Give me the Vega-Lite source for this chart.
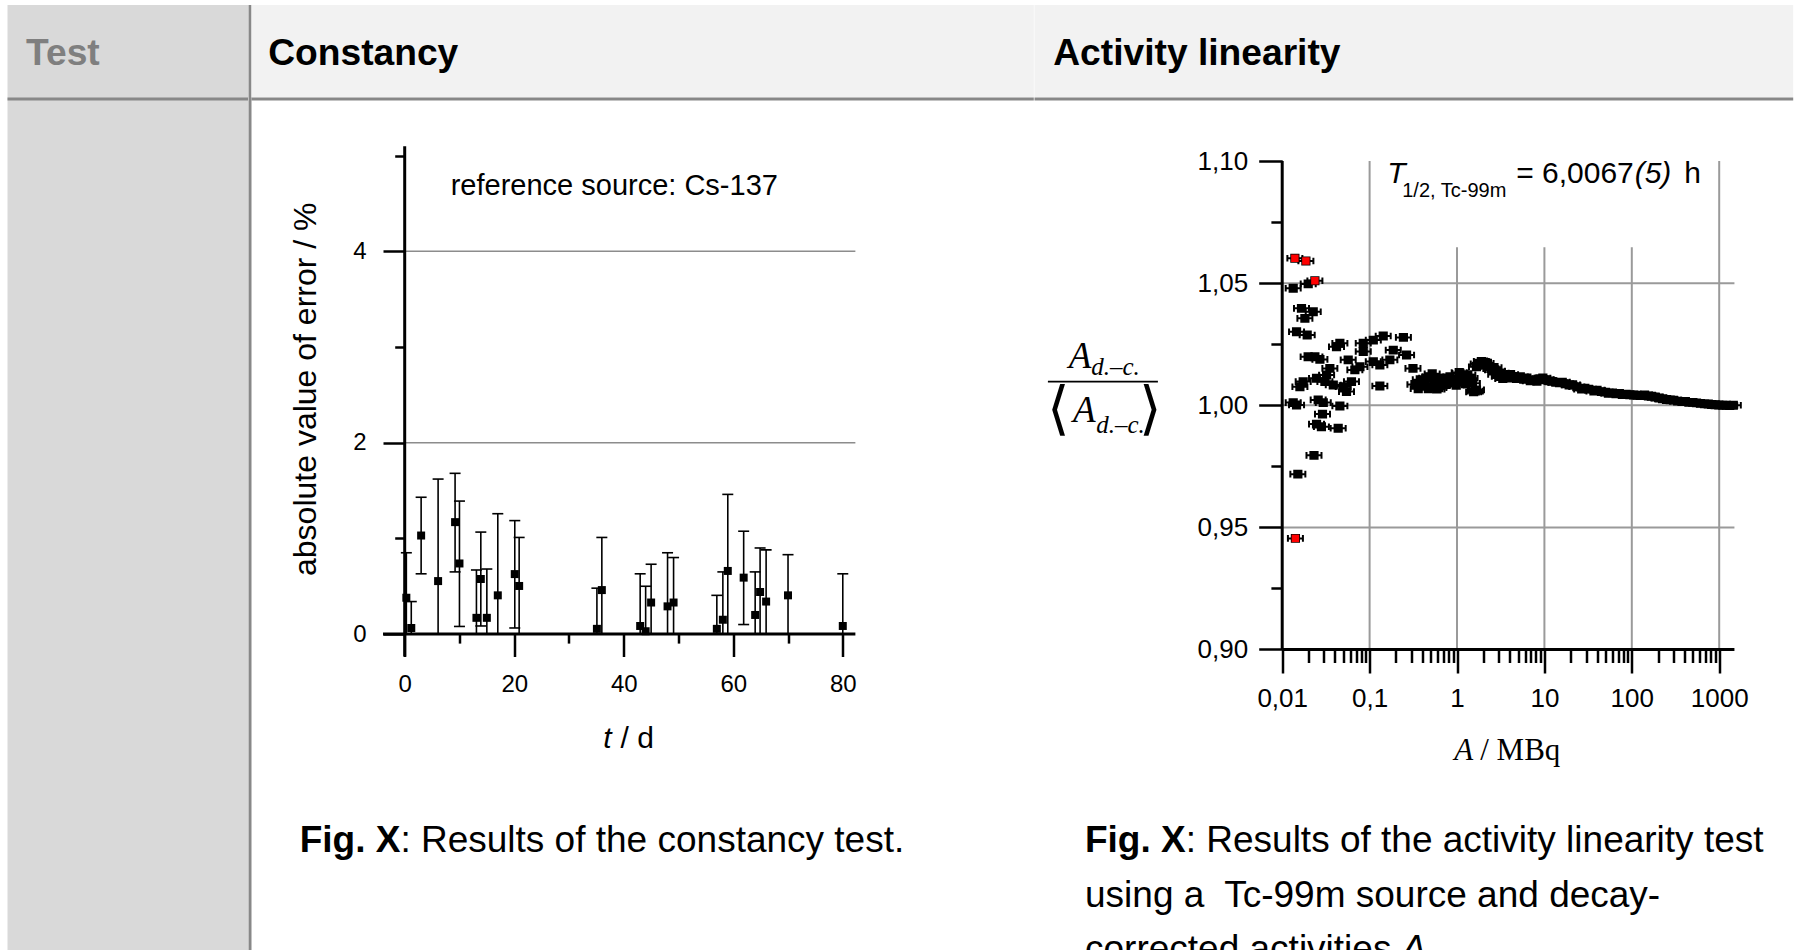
{
  "$schema": "https://vega.github.io/schema/vega-lite/v6.json",
  "background": "white",
  "padding": {"left": 7.5, "top": 5, "right": 0, "bottom": 0},
  "bounds": "flush",
  "spacing": 0,
  "config": {
    "view": {"stroke": null},
    "font": "Liberation Sans",
    "axis": {"labelFont": "Liberation Sans", "labelColor": "black", "tickColor": "black", "labelFlush": false, "labelOverlap": false}
  },
  "datasets": {
    "constancy": [
      {"t": 0.3, "v": 0.38, "lo": 0, "hi": 0.85},
      {"t": 1.2, "v": 0.064, "lo": 0, "hi": 0.34},
      {"t": 3.0, "v": 1.03, "lo": 0.63, "hi": 1.43},
      {"t": 6.1, "v": 0.554, "lo": 0, "hi": 1.62},
      {"t": 9.2, "v": 1.17, "lo": 0.65, "hi": 1.68},
      {"t": 10.0, "v": 0.738, "lo": 0.08, "hi": 1.39},
      {"t": 13.1, "v": 0.17, "lo": 0, "hi": 0.67},
      {"t": 13.9, "v": 0.576, "lo": 0.085, "hi": 1.066},
      {"t": 15.0, "v": 0.17, "lo": 0, "hi": 0.68},
      {"t": 17.0, "v": 0.405, "lo": 0, "hi": 1.258},
      {"t": 20.1, "v": 0.627, "lo": 0.064, "hi": 1.186},
      {"t": 20.9, "v": 0.503, "lo": 0, "hi": 1.01},
      {"t": 35.1, "v": 0.055, "lo": 0, "hi": 0.48},
      {"t": 36.0, "v": 0.46, "lo": 0, "hi": 1.01},
      {"t": 43.0, "v": 0.085, "lo": 0, "hi": 0.63},
      {"t": 44.0, "v": 0.03, "lo": 0, "hi": 0.5},
      {"t": 45.0, "v": 0.33, "lo": 0, "hi": 0.73},
      {"t": 48.0, "v": 0.29, "lo": 0, "hi": 0.85},
      {"t": 49.1, "v": 0.33, "lo": 0, "hi": 0.8},
      {"t": 57.0, "v": 0.055, "lo": 0, "hi": 0.405},
      {"t": 58.1, "v": 0.15, "lo": 0, "hi": 0.65},
      {"t": 59.0, "v": 0.66, "lo": 0, "hi": 1.46},
      {"t": 61.9, "v": 0.59, "lo": 0.1, "hi": 1.075},
      {"t": 64.0, "v": 0.2, "lo": 0, "hi": 0.65},
      {"t": 64.9, "v": 0.44, "lo": 0, "hi": 0.9},
      {"t": 66.0, "v": 0.34, "lo": 0, "hi": 0.88},
      {"t": 70.0, "v": 0.405, "lo": 0, "hi": 0.83},
      {"t": 80.0, "v": 0.085, "lo": 0, "hi": 0.63}
    ],
    "linearity": [
      {"A": 0.01396, "r": 1.0602, "out": true},
      {"A": 0.01866, "r": 1.0591, "out": true},
      {"A": 0.02366, "r": 1.0510, "out": true},
      {"A": 0.01416, "r": 0.9455, "out": true},
      {"A": 0.01336, "r": 1.0479, "out": false},
      {"A": 0.01984, "r": 1.0497, "out": false},
      {"A": 0.01662, "r": 1.0397, "out": false},
      {"A": 0.02264, "r": 1.0383, "out": false},
      {"A": 0.01818, "r": 1.0356, "out": false},
      {"A": 0.01459, "r": 1.0301, "out": false},
      {"A": 0.01931, "r": 1.0288, "out": false},
      {"A": 0.0457, "r": 1.0254, "out": false},
      {"A": 0.0418, "r": 1.0240, "out": false},
      {"A": 0.0846, "r": 1.0254, "out": false},
      {"A": 0.1102, "r": 1.0267, "out": false},
      {"A": 0.1431, "r": 1.0284, "out": false},
      {"A": 0.2436, "r": 1.0278, "out": false},
      {"A": 0.02366, "r": 1.0199, "out": false},
      {"A": 0.0270, "r": 1.0188, "out": false},
      {"A": 0.0198, "r": 1.0199, "out": false},
      {"A": 0.0846, "r": 1.0220, "out": false},
      {"A": 0.0569, "r": 1.0186, "out": false},
      {"A": 0.0775, "r": 1.0158, "out": false},
      {"A": 0.1865, "r": 1.0226, "out": false},
      {"A": 0.2648, "r": 1.0206, "out": false},
      {"A": 0.1705, "r": 1.0186, "out": false},
      {"A": 0.1102, "r": 1.0179, "out": false},
      {"A": 0.131, "r": 1.0165, "out": false},
      {"A": 0.3134, "r": 1.0151, "out": false},
      {"A": 0.0351, "r": 1.0151, "out": false},
      {"A": 0.0322, "r": 1.0124, "out": false},
      {"A": 0.0678, "r": 1.0145, "out": false},
      {"A": 0.01738, "r": 1.0097, "out": false},
      {"A": 0.0247, "r": 1.0111, "out": false},
      {"A": 0.01594, "r": 1.0076, "out": false},
      {"A": 0.0308, "r": 1.0097, "out": false},
      {"A": 0.0384, "r": 1.0083, "out": false},
      {"A": 0.0499, "r": 1.0076, "out": false},
      {"A": 0.0544, "r": 1.0056, "out": false},
      {"A": 0.0620, "r": 1.0097, "out": false},
      {"A": 0.131, "r": 1.0079, "out": false},
      {"A": 0.33, "r": 1.0085, "out": false},
      {"A": 0.36, "r": 1.0068, "out": false},
      {"A": 0.38, "r": 1.0105, "out": false},
      {"A": 0.412, "r": 1.0090, "out": false},
      {"A": 0.42, "r": 1.0078, "out": false},
      {"A": 0.45, "r": 1.0112, "out": false},
      {"A": 0.47, "r": 1.0068, "out": false},
      {"A": 0.486, "r": 1.0117, "out": false},
      {"A": 0.486, "r": 1.0076, "out": false},
      {"A": 0.52, "r": 1.0129, "out": false},
      {"A": 0.55, "r": 1.0105, "out": false},
      {"A": 0.57, "r": 1.0078, "out": false},
      {"A": 0.59, "r": 1.0066, "out": false},
      {"A": 0.62, "r": 1.0072, "out": false},
      {"A": 0.638, "r": 1.0111, "out": false},
      {"A": 0.66, "r": 1.0098, "out": false},
      {"A": 0.69, "r": 1.0083, "out": false},
      {"A": 0.72, "r": 1.0109, "out": false},
      {"A": 0.75, "r": 1.0085, "out": false},
      {"A": 0.78, "r": 1.0112, "out": false},
      {"A": 0.832, "r": 1.0117, "out": false},
      {"A": 0.87, "r": 1.0092, "out": false},
      {"A": 0.95, "r": 1.0105, "out": false},
      {"A": 0.98, "r": 1.0082, "out": false},
      {"A": 1.06, "r": 1.0134, "out": false},
      {"A": 1.08, "r": 1.0131, "out": false},
      {"A": 1.12, "r": 1.0095, "out": false},
      {"A": 1.18, "r": 1.0120, "out": false},
      {"A": 1.25, "r": 1.0088, "out": false},
      {"A": 1.28, "r": 1.0109, "out": false},
      {"A": 1.33, "r": 1.0125, "out": false},
      {"A": 1.41, "r": 1.0111, "out": false},
      {"A": 1.50, "r": 1.0090, "out": false},
      {"A": 1.55, "r": 1.0055, "out": false},
      {"A": 1.62, "r": 1.0058, "out": false},
      {"A": 1.67, "r": 1.0158, "out": false},
      {"A": 1.67, "r": 1.0063, "out": false},
      {"A": 1.75, "r": 1.0170, "out": false},
      {"A": 1.85, "r": 1.0165, "out": false},
      {"A": 1.9, "r": 1.0180, "out": false},
      {"A": 2.01, "r": 1.0177, "out": false},
      {"A": 2.15, "r": 1.0172, "out": false},
      {"A": 2.3, "r": 1.0160, "out": false},
      {"A": 2.44, "r": 1.0150, "out": false},
      {"A": 2.55, "r": 1.0145, "out": false},
      {"A": 2.65, "r": 1.0155, "out": false},
      {"A": 2.77, "r": 1.0126, "out": false},
      {"A": 2.9, "r": 1.0140, "out": false},
      {"A": 3.05, "r": 1.0118, "out": false},
      {"A": 3.2, "r": 1.0132, "out": false},
      {"A": 3.34, "r": 1.0109, "out": false},
      {"A": 3.6, "r": 1.0122, "out": false},
      {"A": 3.8, "r": 1.0112, "out": false},
      {"A": 4.1, "r": 1.0126, "out": false},
      {"A": 4.4, "r": 1.0118, "out": false},
      {"A": 4.8, "r": 1.0110, "out": false},
      {"A": 5.3, "r": 1.0117, "out": false},
      {"A": 5.8, "r": 1.0106, "out": false},
      {"A": 6.3, "r": 1.0112, "out": false},
      {"A": 6.9, "r": 1.0100, "out": false},
      {"A": 7.5, "r": 1.0104, "out": false},
      {"A": 8.2, "r": 1.0098, "out": false},
      {"A": 8.9, "r": 1.0109, "out": false},
      {"A": 9.6, "r": 1.0112, "out": false},
      {"A": 10.5, "r": 1.0105, "out": false},
      {"A": 11.4, "r": 1.0100, "out": false},
      {"A": 12.3, "r": 1.0098, "out": false},
      {"A": 13.5, "r": 1.0094, "out": false},
      {"A": 14.9, "r": 1.0092, "out": false},
      {"A": 16, "r": 1.0095, "out": false},
      {"A": 17.5, "r": 1.0088, "out": false},
      {"A": 19.2, "r": 1.0083, "out": false},
      {"A": 21, "r": 1.0084, "out": false},
      {"A": 23.5, "r": 1.0076, "out": false},
      {"A": 26.7, "r": 1.0066, "out": false},
      {"A": 29, "r": 1.0070, "out": false},
      {"A": 32, "r": 1.0066, "out": false},
      {"A": 36.9, "r": 1.0058, "out": false},
      {"A": 40, "r": 1.0062, "out": false},
      {"A": 45, "r": 1.0056, "out": false},
      {"A": 50, "r": 1.0054, "out": false},
      {"A": 54, "r": 1.0049, "out": false},
      {"A": 60, "r": 1.0051, "out": false},
      {"A": 66, "r": 1.0047, "out": false},
      {"A": 72, "r": 1.0048, "out": false},
      {"A": 78, "r": 1.0044, "out": false},
      {"A": 86, "r": 1.0045, "out": false},
      {"A": 95, "r": 1.0043, "out": false},
      {"A": 105, "r": 1.0042, "out": false},
      {"A": 115, "r": 1.0041, "out": false},
      {"A": 125, "r": 1.0040, "out": false},
      {"A": 140, "r": 1.0042, "out": false},
      {"A": 155, "r": 1.0038, "out": false},
      {"A": 168, "r": 1.0037, "out": false},
      {"A": 185, "r": 1.0034, "out": false},
      {"A": 205, "r": 1.0030, "out": false},
      {"A": 225, "r": 1.0027, "out": false},
      {"A": 250, "r": 1.0024, "out": false},
      {"A": 275, "r": 1.0022, "out": false},
      {"A": 300, "r": 1.0021, "out": false},
      {"A": 335, "r": 1.0017, "out": false},
      {"A": 375, "r": 1.0015, "out": false},
      {"A": 410, "r": 1.0016, "out": false},
      {"A": 450, "r": 1.0012, "out": false},
      {"A": 500, "r": 1.0012, "out": false},
      {"A": 550, "r": 1.0010, "out": false},
      {"A": 610, "r": 1.0008, "out": false},
      {"A": 680, "r": 1.0006, "out": false},
      {"A": 750, "r": 1.0005, "out": false},
      {"A": 820, "r": 1.0003, "out": false},
      {"A": 900, "r": 1.0002, "out": false},
      {"A": 990, "r": 1.0001, "out": false},
      {"A": 1100, "r": 1.0000, "out": false},
      {"A": 1210, "r": 1.0000, "out": false},
      {"A": 1320, "r": 0.9999, "out": false},
      {"A": 1450, "r": 1.0000, "out": false},
      {"A": 0.01336, "r": 1.0011, "out": false},
      {"A": 0.01459, "r": 1.0001, "out": false},
      {"A": 0.0258, "r": 1.0022, "out": false},
      {"A": 0.0295, "r": 1.0011, "out": false},
      {"A": 0.0457, "r": 0.9997, "out": false},
      {"A": 0.0289, "r": 0.9964, "out": false},
      {"A": 0.0247, "r": 0.9923, "out": false},
      {"A": 0.0281, "r": 0.9912, "out": false},
      {"A": 0.0437, "r": 0.9906, "out": false},
      {"A": 0.0231, "r": 0.9795, "out": false},
      {"A": 0.0151, "r": 0.9718, "out": false}
    ]
  },
  "hconcat": [
    {
      "width": 240.5,
      "height": 945,
      "view": {"fill": "#d9d9d9", "stroke": null},
      "layer": [
        {
          "data": {"values": [{}]},
          "mark": {"type": "rect", "color": "#888888", "opacity": 1},
          "encoding": {
            "x": {"datum": -72.443, "type": "quantitative", "scale": {"domain": [-72.443, -28.524], "nice": false, "zero": false}, "axis": null},
            "x2": {"datum": -28.524},
            "y": {"datum": 5.5758, "type": "quantitative", "scale": {"domain": [-3.3009, 6.5737], "nice": false, "zero": false}, "axis": null},
            "y2": {"datum": 5.6071}
          }
        },
        {
          "data": {"values": [{}]},
          "mark": {"type": "text", "text": "Test", "align": "left", "baseline": "alphabetic", "fontSize": 37.2, "fontWeight": "bold", "color": "#7f7f7f"},
          "encoding": {
            "x": {"datum": -69.06, "type": "quantitative", "axis": null},
            "y": {"datum": 5.9467, "type": "quantitative", "axis": null}
          }
        }
      ]
    },
    {"width": 3, "height": 945, "view": {"fill": "#888888", "stroke": null}, "data": {"values": []}, "mark": "point"},
    {
      "width": 782.3,
      "height": 945,
      "layer": [
        {
          "data": {"values": [{}]},
          "mark": {"type": "rect", "color": "#f2f2f2", "opacity": 1},
          "encoding": {
            "x": {"datum": -27.977, "type": "quantitative"}, "x2": {"datum": 114.883},
            "y": {"datum": 5.6071, "type": "quantitative"}, "y2": {"datum": 6.5737}
          }
        },
        {
          "data": {"values": [{}]},
          "mark": {"type": "rect", "color": "#888888", "opacity": 1},
          "encoding": {
            "x": {"datum": -27.977, "type": "quantitative"}, "x2": {"datum": 114.883},
            "y": {"datum": 5.5758, "type": "quantitative"}, "y2": {"datum": 5.6071}
          }
        },
        {
          "data": {"values": [{}]},
          "mark": {"type": "text", "text": "Constancy", "align": "left", "baseline": "alphabetic", "fontSize": 37.2, "fontWeight": "bold", "color": "black"},
          "encoding": {"x": {"datum": -24.93, "type": "quantitative"}, "y": {"datum": 5.9467, "type": "quantitative"}}
        },
        {
          "data": {"values": [{}]},
          "mark": {"type": "rule", "color": "#8c8c8c", "strokeWidth": 1.6},
          "encoding": {"x": {"datum": 0, "type": "quantitative"}, "x2": {"datum": 82.3}, "y": {"datum": 2, "type": "quantitative"}}
        },
        {
          "data": {"values": [{}]},
          "mark": {"type": "rule", "color": "#8c8c8c", "strokeWidth": 1.6},
          "encoding": {"x": {"datum": 0, "type": "quantitative"}, "x2": {"datum": 82.3}, "y": {"datum": 4, "type": "quantitative"}}
        },
        {
          "data": {"name": "constancy"},
          "mark": {"type": "rule", "color": "black", "strokeWidth": 1.6},
          "encoding": {
            "x": {
              "field": "t", "type": "quantitative",
              "scale": {"domain": [-27.977, 114.883], "nice": false, "zero": false},
              "axis": {
                "title": null,
                "values": [0, 10, 20, 30, 40, 50, 60, 70, 80],
                "offset": -315.9,
                "domain": false,
                "tickWidth": 2.5,
                "tickSize": {"condition": {"test": "datum.value % 20 === 0", "value": 22.4}, "value": 9},
                "labelExpr": "datum.value % 20 === 0 ? format(datum.value, 'd') : ''",
                "labelFontSize": 24,
                "labelPadding": 16,
                "grid": false
              }
            },
            "y": {
              "field": "lo", "type": "quantitative",
              "scale": {"domain": [-3.3009, 6.5737], "nice": false, "zero": false},
              "axis": {
                "title": null,
                "values": [0, 1, 2, 3, 4, 5],
                "offset": -153.2,
                "domain": false,
                "tickWidth": 2.5,
                "tickSize": {"condition": {"test": "datum.value % 2 === 0", "value": 21.7}, "value": 10},
                "labelExpr": "datum.value % 2 === 0 ? format(datum.value, 'd') : ''",
                "labelFontSize": 24,
                "labelPadding": 17,
                "grid": false
              }
            },
            "y2": {"field": "hi"}
          }
        },
        {
          "data": {"values": [{}]},
          "mark": {"type": "rule", "color": "black", "strokeWidth": 3},
          "encoding": {"x": {"datum": -3.96, "type": "quantitative"}, "x2": {"datum": 82.3}, "y": {"datum": 0, "type": "quantitative"}}
        },
        {
          "data": {"values": [{}]},
          "mark": {"type": "rule", "color": "black", "strokeWidth": 3},
          "encoding": {"x": {"datum": 0, "type": "quantitative"}, "y": {"datum": -0.234, "type": "quantitative"}, "y2": {"datum": 5.097}}
        },
        {
          "data": {"name": "constancy"},
          "mark": {"type": "tick", "orient": "horizontal", "size": 11, "thickness": 1.6, "color": "black", "opacity": 1},
          "encoding": {"x": {"field": "t", "type": "quantitative"}, "y": {"field": "hi", "type": "quantitative"}}
        },
        {
          "data": {"name": "constancy"},
          "transform": [{"filter": "datum.lo > 0"}],
          "mark": {"type": "tick", "orient": "horizontal", "size": 11, "thickness": 1.6, "color": "black", "opacity": 1},
          "encoding": {"x": {"field": "t", "type": "quantitative"}, "y": {"field": "lo", "type": "quantitative"}}
        },
        {
          "data": {"name": "constancy"},
          "mark": {"type": "square", "size": 64, "color": "black", "opacity": 1},
          "encoding": {"x": {"field": "t", "type": "quantitative"}, "y": {"field": "v", "type": "quantitative"}}
        },
        {
          "data": {"values": [{}]},
          "mark": {"type": "text", "text": "reference source: Cs-137", "align": "left", "baseline": "alphabetic", "fontSize": 29, "color": "black"},
          "encoding": {"x": {"datum": 8.4, "type": "quantitative"}, "y": {"datum": 4.593, "type": "quantitative"}}
        },
        {
          "data": {"values": [{}]},
          "mark": {"type": "text", "text": "absolute value of error / %", "align": "center", "baseline": "alphabetic", "angle": 270, "fontSize": 32, "color": "black"},
          "encoding": {"x": {"datum": -16.25, "type": "quantitative"}, "y": {"datum": 2.559, "type": "quantitative"}}
        },
        {
          "data": {"values": [{}]},
          "mark": {"type": "text", "text": "t", "align": "right", "baseline": "alphabetic", "fontSize": 30, "fontStyle": "italic", "color": "black"},
          "encoding": {"x": {"datum": 37.76, "type": "quantitative"}, "y": {"datum": -1.194, "type": "quantitative"}}
        },
        {
          "data": {"values": [{}]},
          "mark": {"type": "text", "text": "/ d", "align": "left", "baseline": "alphabetic", "fontSize": 30, "color": "black"},
          "encoding": {"x": {"datum": 39.41, "type": "quantitative"}, "y": {"datum": -1.194, "type": "quantitative"}}
        },
        {
          "data": {"values": [{}]},
          "mark": {"type": "text", "text": "Fig. X", "align": "right", "baseline": "alphabetic", "fontSize": 37, "fontWeight": "bold", "color": "black"},
          "encoding": {"x": {"datum": -0.785, "type": "quantitative"}, "y": {"datum": -2.274, "type": "quantitative"}}
        },
        {
          "data": {"values": [{}]},
          "mark": {"type": "text", "text": ": Results of the constancy test.", "align": "left", "baseline": "alphabetic", "fontSize": 37, "color": "black"},
          "encoding": {"x": {"datum": -0.785, "type": "quantitative"}, "y": {"datum": -2.274, "type": "quantitative"}}
        }
      ]
    },
    {
      "width": 758.7,
      "height": 945,
      "layer": [
        {
          "data": {"values": [{}]},
          "mark": {"type": "rect", "color": "#f2f2f2", "opacity": 1},
          "encoding": {
            "x": {"datum": 1.4647e-5, "type": "quantitative"}, "x2": {"datum": 7026},
            "y": {"datum": 1.12604, "type": "quantitative"}, "y2": {"datum": 1.16392}
          }
        },
        {
          "data": {"values": [{}]},
          "mark": {"type": "rect", "color": "#888888", "opacity": 1},
          "encoding": {
            "x": {"datum": 1.4647e-5, "type": "quantitative"}, "x2": {"datum": 7026},
            "y": {"datum": 1.12482, "type": "quantitative"}, "y2": {"datum": 1.12604}
          }
        },
        {
          "data": {"values": [{}]},
          "mark": {"type": "text", "text": "Activity linearity", "align": "left", "baseline": "alphabetic", "fontSize": 37.2, "fontWeight": "bold", "color": "black"},
          "encoding": {"x": {"datum": 2.399e-5, "type": "quantitative"}, "y": {"datum": 1.13935, "type": "quantitative"}}
        },
        {
          "data": {"values": [{}]},
          "mark": {"type": "rule", "color": "#9a9a9a", "strokeWidth": 2},
          "encoding": {"x": {"datum": 0.01, "type": "quantitative"}, "x2": {"datum": 1494}, "y": {"datum": 0.95, "type": "quantitative"}}
        },
        {
          "data": {"values": [{}]},
          "mark": {"type": "rule", "color": "#9a9a9a", "strokeWidth": 2},
          "encoding": {"x": {"datum": 0.01, "type": "quantitative"}, "x2": {"datum": 1494}, "y": {"datum": 1.0, "type": "quantitative"}}
        },
        {
          "data": {"values": [{}]},
          "mark": {"type": "rule", "color": "#9a9a9a", "strokeWidth": 2},
          "encoding": {"x": {"datum": 0.01, "type": "quantitative"}, "x2": {"datum": 1494}, "y": {"datum": 1.05, "type": "quantitative"}}
        },
        {
          "data": {"values": [{}]},
          "mark": {"type": "rule", "color": "#9a9a9a", "strokeWidth": 2},
          "encoding": {"x": {"datum": 0.1, "type": "quantitative"}, "y": {"datum": 0.9, "type": "quantitative"}, "y2": {"datum": 1.1}}
        },
        {
          "data": {"values": [{}]},
          "mark": {"type": "rule", "color": "#9a9a9a", "strokeWidth": 2},
          "encoding": {"x": {"datum": 1, "type": "quantitative"}, "y": {"datum": 0.9, "type": "quantitative"}, "y2": {"datum": 1.1}}
        },
        {
          "data": {"values": [{}]},
          "mark": {"type": "rule", "color": "#9a9a9a", "strokeWidth": 2},
          "encoding": {"x": {"datum": 10, "type": "quantitative"}, "y": {"datum": 0.9, "type": "quantitative"}, "y2": {"datum": 1.1}}
        },
        {
          "data": {"values": [{}]},
          "mark": {"type": "rule", "color": "#9a9a9a", "strokeWidth": 2},
          "encoding": {"x": {"datum": 100, "type": "quantitative"}, "y": {"datum": 0.9, "type": "quantitative"}, "y2": {"datum": 1.1}}
        },
        {
          "data": {"values": [{}]},
          "mark": {"type": "rule", "color": "#9a9a9a", "strokeWidth": 2},
          "encoding": {"x": {"datum": 1000, "type": "quantitative"}, "y": {"datum": 0.9, "type": "quantitative"}, "y2": {"datum": 1.1}}
        },
        {
          "data": {"values": [{}]},
          "mark": {"type": "rect", "color": "white", "opacity": 1},
          "encoding": {
            "x": {"datum": 0.119, "type": "quantitative"}, "x2": {"datum": 850},
            "y": {"datum": 1.0647, "type": "quantitative"}, "y2": {"datum": 1.1}
          }
        },
        {
          "data": {"values": [{}]},
          "mark": {"type": "rule", "color": "black", "strokeWidth": 3},
          "encoding": {"x": {"datum": 0.01, "type": "quantitative"}, "x2": {"datum": 1494}, "y": {"datum": 0.9, "type": "quantitative"}}
        },
        {
          "data": {"values": [{}]},
          "mark": {"type": "rule", "color": "black", "strokeWidth": 3},
          "encoding": {"x": {"datum": 0.01, "type": "quantitative"}, "y": {"datum": 0.9, "type": "quantitative"}, "y2": {"datum": 1.1}}
        },
        {
          "data": {"name": "linearity"},
          "mark": {
            "type": "point",
            "shape": "M-0.48,-0.46H0.48V0.46H-0.48Z M-1,0H1 M-1,-0.44V0.44 M1,-0.44V0.44",
            "size": 225,
            "filled": true,
            "fill": "black",
            "stroke": "black",
            "strokeWidth": 2,
            "opacity": 1
          },
          "encoding": {
            "x": {
              "field": "A", "type": "quantitative",
              "scale": {"type": "log", "domain": [1.4647e-5, 7026], "nice": false},
              "axis": {
                "title": null,
                "values": [0.01, 0.02, 0.03, 0.04, 0.05, 0.06, 0.07, 0.08, 0.09, 0.1, 0.2, 0.3, 0.4, 0.5, 0.6, 0.7, 0.8, 0.9, 1, 2, 3, 4, 5, 6, 7, 8, 9, 10, 20, 30, 40, 50, 60, 70, 80, 90, 100, 200, 300, 400, 500, 600, 700, 800, 900, 1000],
                "offset": -300.5,
                "domain": false,
                "tickWidth": 2.5,
                "tickSize": {"condition": {"test": "abs(log(datum.value)/LN10 - round(log(datum.value)/LN10)) < 0.001", "value": 23.5}, "value": 13},
                "labelExpr": "abs(log(datum.value)/LN10 - round(log(datum.value)/LN10)) < 0.001 ? replace(format(datum.value, '~g'), '.', ',') : ''",
                "labelFontSize": 26,
                "labelPadding": 12,
                "grid": false
              }
            },
            "y": {
              "field": "r", "type": "quantitative",
              "scale": {"domain": [0.77694, 1.16392], "nice": false, "zero": false},
              "axis": {
                "title": null,
                "values": [0.9, 0.925, 0.95, 0.975, 1.0, 1.025, 1.05, 1.075, 1.1],
                "offset": -247.7,
                "domain": false,
                "tickWidth": 2.5,
                "tickSize": {"condition": {"test": "abs(datum.value*20 - round(datum.value*20)) < 0.001", "value": 23.5}, "value": 11.3},
                "labelExpr": "abs(datum.value*20 - round(datum.value*20)) < 0.001 ? replace(format(datum.value, '.2f'), '.', ',') : ''",
                "labelFontSize": 26,
                "labelPadding": 11,
                "grid": false
              }
            }
          }
        },
        {
          "data": {"name": "linearity"},
          "transform": [{"filter": "datum.out"}],
          "mark": {"type": "square", "size": 56, "color": "#ff0000", "opacity": 1},
          "encoding": {"x": {"field": "A", "type": "quantitative"}, "y": {"field": "r", "type": "quantitative"}}
        },
        {
          "data": {"values": [{}]},
          "mark": {"type": "text", "text": "T", "align": "left", "baseline": "alphabetic", "fontSize": 30, "fontStyle": "italic", "color": "black"},
          "encoding": {"x": {"datum": 0.159, "type": "quantitative"}, "y": {"datum": 1.0909, "type": "quantitative"}}
        },
        {
          "data": {"values": [{}]},
          "mark": {"type": "text", "text": "1/2, Tc-99m", "align": "left", "baseline": "alphabetic", "fontSize": 20, "color": "black"},
          "encoding": {"x": {"datum": 0.236, "type": "quantitative"}, "y": {"datum": 1.0854, "type": "quantitative"}}
        },
        {
          "data": {"values": [{}]},
          "mark": {"type": "text", "text": "= 6,0067", "align": "left", "baseline": "alphabetic", "fontSize": 30, "color": "black"},
          "encoding": {"x": {"datum": 4.756, "type": "quantitative"}, "y": {"datum": 1.0909, "type": "quantitative"}}
        },
        {
          "data": {"values": [{}]},
          "mark": {"type": "text", "text": "(5)", "align": "left", "baseline": "alphabetic", "fontSize": 30, "fontStyle": "italic", "color": "black"},
          "encoding": {"x": {"datum": 107.9, "type": "quantitative"}, "y": {"datum": 1.0909, "type": "quantitative"}}
        },
        {
          "data": {"values": [{}]},
          "mark": {"type": "text", "text": "h", "align": "left", "baseline": "alphabetic", "fontSize": 30, "color": "black"},
          "encoding": {"x": {"datum": 397.6, "type": "quantitative"}, "y": {"datum": 1.0909, "type": "quantitative"}}
        },
        {
          "data": {"values": [{}]},
          "mark": {"type": "rule", "color": "black", "strokeWidth": 1.8},
          "encoding": {
            "x": {"datum": 2.085e-5, "type": "quantitative"}, "x2": {"datum": 3.783e-4},
            "y": {"datum": 1.00967, "type": "quantitative"}
          }
        },
        {
          "data": {"values": [{}]},
          "mark": {"type": "text", "text": "A", "align": "left", "baseline": "alphabetic", "font": "Liberation Serif", "fontSize": 37, "fontStyle": "italic", "color": "black"},
          "encoding": {"x": {"datum": 3.607e-5, "type": "quantitative"}, "y": {"datum": 1.01515, "type": "quantitative"}}
        },
        {
          "data": {"values": [{}]},
          "mark": {"type": "text", "text": "d.–c.", "align": "left", "baseline": "alphabetic", "font": "Liberation Serif", "fontSize": 25, "fontStyle": "italic", "color": "black"},
          "encoding": {"x": {"datum": 6.526e-5, "type": "quantitative"}, "y": {"datum": 1.01241, "type": "quantitative"}}
        },
        {
          "data": {"values": [{}]},
          "mark": {"type": "text", "text": "⟨", "align": "center", "baseline": "middle", "font": "DejaVu Sans", "fontWeight": 200, "fontSize": 58, "color": "black"},
          "encoding": {"x": {"datum": 2.772e-5, "type": "quantitative"}, "y": {"datum": 0.99746, "type": "quantitative"}}
        },
        {
          "data": {"values": [{}]},
          "mark": {"type": "text", "text": "A", "align": "left", "baseline": "alphabetic", "font": "Liberation Serif", "fontSize": 37, "fontStyle": "italic", "color": "black"},
          "encoding": {"x": {"datum": 4.051e-5, "type": "quantitative"}, "y": {"datum": 0.99328, "type": "quantitative"}}
        },
        {
          "data": {"values": [{}]},
          "mark": {"type": "text", "text": "d.–c.", "align": "left", "baseline": "alphabetic", "font": "Liberation Serif", "fontSize": 25, "fontStyle": "italic", "color": "black"},
          "encoding": {"x": {"datum": 7.44e-5, "type": "quantitative"}, "y": {"datum": 0.98853, "type": "quantitative"}}
        },
        {
          "data": {"values": [{}]},
          "mark": {"type": "text", "text": "⟩", "align": "center", "baseline": "middle", "font": "DejaVu Sans", "fontWeight": 200, "fontSize": 58, "color": "black"},
          "encoding": {"x": {"datum": 3.088e-4, "type": "quantitative"}, "y": {"datum": 0.99746, "type": "quantitative"}}
        },
        {
          "data": {"values": [{}]},
          "mark": {"type": "text", "text": "A", "align": "right", "baseline": "alphabetic", "font": "Liberation Serif", "fontSize": 31, "fontStyle": "italic", "color": "black"},
          "encoding": {"x": {"datum": 1.532, "type": "quantitative"}, "y": {"datum": 0.85467, "type": "quantitative"}}
        },
        {
          "data": {"values": [{}]},
          "mark": {"type": "text", "text": "/ MBq", "align": "left", "baseline": "alphabetic", "font": "Liberation Serif", "fontSize": 31, "color": "black"},
          "encoding": {"x": {"datum": 1.843, "type": "quantitative"}, "y": {"datum": 0.85467, "type": "quantitative"}}
        },
        {
          "data": {"values": [{}]},
          "mark": {"type": "text", "text": "Fig. X", "align": "right", "baseline": "alphabetic", "fontSize": 37, "fontWeight": "bold", "color": "black"},
          "encoding": {"x": {"datum": 7.866e-4, "type": "quantitative"}, "y": {"datum": 0.81708, "type": "quantitative"}}
        },
        {
          "data": {"values": [{}]},
          "mark": {"type": "text", "text": ": Results of the activity linearity test", "align": "left", "baseline": "alphabetic", "fontSize": 37, "color": "black"},
          "encoding": {"x": {"datum": 7.866e-4, "type": "quantitative"}, "y": {"datum": 0.81708, "type": "quantitative"}}
        },
        {
          "data": {"values": [{}]},
          "mark": {"type": "text", "text": "using a\u00a0 Tc-99m source and decay-", "align": "left", "baseline": "alphabetic", "fontSize": 37, "color": "black"},
          "encoding": {"x": {"datum": 5.542e-5, "type": "quantitative"}, "y": {"datum": 0.79475, "type": "quantitative"}}
        },
        {
          "data": {"values": [{}]},
          "mark": {"type": "text", "text": "corrected activities", "align": "left", "baseline": "alphabetic", "fontSize": 37, "color": "black"},
          "encoding": {"x": {"datum": 5.542e-5, "type": "quantitative"}, "y": {"datum": 0.77244, "type": "quantitative"}}
        },
        {
          "data": {"values": [{}]},
          "mark": {"type": "text", "text": "A", "align": "left", "baseline": "alphabetic", "fontSize": 37, "fontStyle": "italic", "color": "black"},
          "encoding": {"x": {"datum": 0.2323, "type": "quantitative"}, "y": {"datum": 0.77244, "type": "quantitative"}}
        }
      ]
    }
  ]
}
